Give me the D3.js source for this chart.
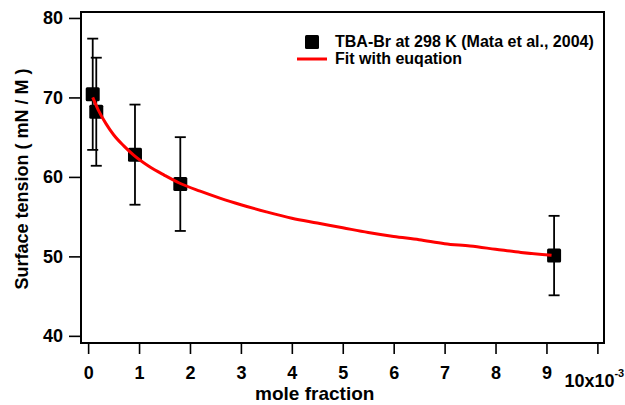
<!DOCTYPE html>
<html><head><meta charset="utf-8">
<script src="https://cdn.jsdelivr.net/npm/d3@7"></script>
<style>
html,body{margin:0;padding:0;background:#fff;}
text{font-family:"Liberation Sans",Arial,sans-serif;font-weight:bold;fill:#000;}
</style></head>
<body>
<svg id="chart" width="625" height="405"></svg>
<script>
// Data
const moleFraction = [0.09, 0.16, 0.92, 1.81, 9.15];          // x 10^-3
const surfaceTension = [70.4, 68.2, 62.8, 59.1, 50.1];         // mN/M
const tensionError = [7.0, 6.8, 6.3, 5.9, 5.0];
const fitX = [0.09, 0.2, 0.35, 0.5, 0.7, 0.9, 1.2, 1.5, 1.8, 2.2, 2.6, 3.0, 3.5, 4.0, 4.5, 5.0, 5.5, 6.0, 6.5, 7.0, 7.5, 8.0, 8.5, 9.1];
const fitY = [70.0, 68.4, 66.7, 65.3, 63.9, 62.7, 61.3, 60.2, 59.2, 58.2, 57.3, 56.5, 55.6, 54.8, 54.2, 53.6, 53.0, 52.5, 52.1, 51.6, 51.3, 50.9, 50.5, 50.15];
const xTicks = [0, 1, 2, 3, 4, 5, 6, 7, 8, 9, 10];
const yTicks = [40, 50, 60, 70, 80];
const legendLabels = ["TBA-Br at 298 K (Mata et al., 2004)", "Fit with euqation"];

const svg = d3.select("#chart");
const L = 81, R = 604, T = 12, B = 343;
const x = d3.scaleLinear().domain([-0.14, 10.13]).range([L, R]);
const y = d3.scaleLinear().domain([39.1, 80.75]).range([B, T]);
const FONT = '"Liberation Sans",Arial,sans-serif';

// frame
svg.append("rect").attr("x", L).attr("y", T).attr("width", R - L).attr("height", B - T)
  .attr("fill", "none").attr("stroke", "#000").attr("stroke-width", 2);

// y axis
const yAxis = d3.axisLeft(y).tickValues(yTicks).tickSize(12).tickPadding(6).tickFormat(d3.format("d"));
const gy = svg.append("g").attr("transform", `translate(${L},0)`).call(yAxis);
gy.select(".domain").remove();
gy.selectAll(".tick line").attr("stroke", "#000").attr("stroke-width", 1.6);
gy.selectAll(".tick text").style("font-size", "18px").style("font-family", FONT).style("font-weight", "bold");

// x axis
const xAxis = d3.axisBottom(x).tickValues(xTicks).tickSize(11).tickPadding(12)
  .tickFormat(d => d === 10 ? "" : d);
const gx = svg.append("g").attr("transform", `translate(0,${B})`).call(xAxis);
gx.select(".domain").remove();
gx.selectAll(".tick line").attr("stroke", "#000").attr("stroke-width", 1.6);
gx.selectAll(".tick text").style("font-size", "18px").style("font-family", FONT).style("font-weight", "bold");

// last tick label 10x10^-3
const t10 = svg.append("text").attr("x", x(10) - 33).attr("y", 387).style("font-size", "18px");
t10.append("tspan").text("10x10");
t10.append("tspan").attr("dy", -10).style("font-size", "11px").text("-3");

// axis titles
svg.append("text").attr("x", x(4.45)).attr("y", 400).attr("text-anchor", "middle")
  .style("font-size", "19px").text("mole fraction");
svg.append("text").attr("transform", "translate(28,179) rotate(-90)").attr("text-anchor", "middle")
  .style("font-size", "18px").text("Surface tension ( mN / M )");

// error bars
const pts = moleFraction.map((m, i) => ({x: m, y: surfaceTension[i], e: tensionError[i]}));
const eb = svg.append("g").attr("stroke", "#000").attr("stroke-width", 1.8);
pts.forEach(p => {
  const cx = x(p.x);
  eb.append("line").attr("x1", cx).attr("x2", cx).attr("y1", y(p.y + p.e)).attr("y2", y(p.y - p.e));
  eb.append("line").attr("x1", cx - 5.5).attr("x2", cx + 5.5).attr("y1", y(p.y + p.e)).attr("y2", y(p.y + p.e));
  eb.append("line").attr("x1", cx - 5.5).attr("x2", cx + 5.5).attr("y1", y(p.y - p.e)).attr("y2", y(p.y - p.e));
});

// markers
svg.append("g").selectAll("rect").data(pts).join("rect")
  .attr("x", d => x(d.x) - 7).attr("y", d => y(d.y) - 7)
  .attr("width", 14).attr("height", 14).attr("rx", 1.5).attr("fill", "#000");

// fit line
const fit = fitX.map((v, i) => [v, fitY[i]]);
svg.append("path").datum(fit)
  .attr("d", d3.line().x(d => x(d[0])).y(d => y(d[1])).curve(d3.curveMonotoneX))
  .attr("fill", "none").attr("stroke", "#ff0000").attr("stroke-width", 3);

// legend
svg.append("rect").attr("x", 305).attr("y", 35).attr("width", 14).attr("height", 14).attr("rx", 1.5).attr("fill", "#000");
svg.append("line").attr("x1", 297).attr("x2", 327).attr("y1", 59).attr("y2", 59)
  .attr("stroke", "#ff0000").attr("stroke-width", 3);
svg.append("text").attr("x", 335).attr("y", 47).style("font-size", "16px").text(legendLabels[0]);
svg.append("text").attr("x", 335).attr("y", 63.5).style("font-size", "16px").text(legendLabels[1]);
</script>
</body></html>
